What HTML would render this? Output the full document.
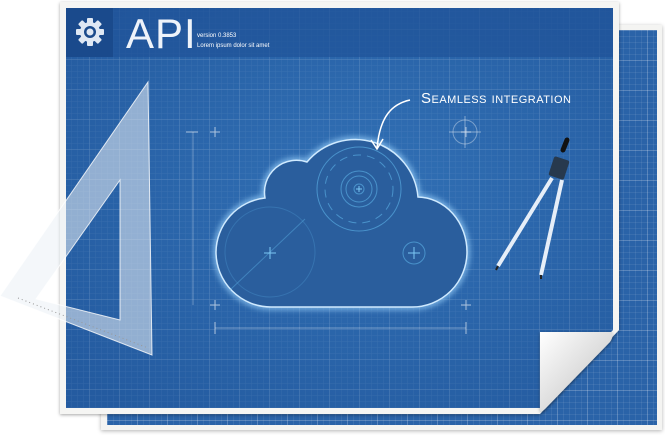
<!DOCTYPE html>
<html><head><meta charset="utf-8"><style>
html,body{margin:0;padding:0;background:#fff;}
body{width:665px;height:435px;position:relative;overflow:hidden;font-family:"Liberation Sans",sans-serif;}
.grid{background-color:#2a63a8;
background-image:
linear-gradient(rgba(255,255,255,.16) 1px,transparent 1px),
linear-gradient(90deg,rgba(255,255,255,.16) 1px,transparent 1px),
linear-gradient(rgba(255,255,255,.07) 1px,transparent 1px),
linear-gradient(90deg,rgba(255,255,255,.07) 1px,transparent 1px);
background-size:30px 30px,30px 30px,6px 6px,6px 6px;}
</style></head><body>
<div style="position:absolute;left:101px;top:25px;width:561px;height:405px;background:#f4f4f2;box-shadow:0 1px 4px rgba(0,0,0,.3);"></div>
<div class="grid" style="position:absolute;left:107px;top:30px;width:550px;height:395px;"></div>
<svg width="665" height="435" style="position:absolute;left:0;top:0">
<defs>
<pattern id="g6" width="6" height="6" patternUnits="userSpaceOnUse"><path d="M6 0V6H0" fill="none" stroke="rgba(255,255,255,.07)"/></pattern>
<pattern id="g30" width="30" height="30" patternUnits="userSpaceOnUse"><path d="M30 0V30H0" fill="none" stroke="rgba(255,255,255,.16)"/></pattern>
<radialGradient id="bg" cx="0.55" cy="0.45" r="0.7"><stop offset="0" stop-color="#3170b5"/><stop offset="1" stop-color="#245ba0"/></radialGradient>
<linearGradient id="curl" x1="0" y1="0" x2="1" y2="1"><stop offset="0" stop-color="#fff"/><stop offset=".6" stop-color="#d8d8d8"/><stop offset="1" stop-color="#aaa"/></linearGradient>
<filter id="sh"><feDropShadow dx="0" dy="1" stdDeviation="1.5" flood-opacity=".35"/></filter>
<filter id="glow"><feGaussianBlur stdDeviation="3"/></filter>
</defs>
<path d="M60 2H619V330L540 414H60Z" fill="#f5f5f3" filter="url(#sh)"/>
<path d="M66 8H613V330L540 408H66Z" fill="url(#bg)"/>
<path d="M66 8H613V330L540 408H66Z" fill="url(#g6)"/>
<path d="M66 8H613V330L540 408H66Z" fill="url(#g30)"/>
<rect x="66" y="8" width="547" height="49" fill="#1f5398" opacity=".7"/>
<rect x="66" y="8" width="47" height="49" fill="#1a4a8c"/>
<g transform="translate(90,32)" fill="#dfe8f4">
<circle r="10"/>
<g id="t"><rect x="-3" y="-14" width="6" height="6" rx="1"/></g>
<use href="#t" transform="rotate(45)"/><use href="#t" transform="rotate(90)"/><use href="#t" transform="rotate(135)"/><use href="#t" transform="rotate(180)"/><use href="#t" transform="rotate(225)"/><use href="#t" transform="rotate(270)"/><use href="#t" transform="rotate(315)"/>
<circle r="6" fill="#1a4a8c"/><circle r="3.5" fill="#dfe8f4"/>
</g>
<text x="126" y="48" fill="#eef3fa" font-size="42" style="font-weight:300" letter-spacing="1">API</text>
<text x="197" y="37" fill="#fff" font-size="6">version 0.3853</text>
<text x="197" y="47" fill="#fff" font-size="6">Lorem ipsum dolor sit amet</text>
<g stroke="rgba(255,255,255,.6)" stroke-width="1" fill="none">
<path d="M193 132V305" opacity=".5"/>
<path d="M215 328H466" opacity=".6"/>
<path d="M186 132h12M210 132h10M215 127v10M461 132h10M466 127v10M210 305h10M215 300v10M461 305h10M466 300v10M215 322v12M466 322v12"/>
<circle cx="465" cy="132" r="12" opacity=".6"/><path d="M449 132h32M465 116v32" opacity=".7"/>
</g>
<path d="M271 307A55 55 0 0 1 216 252A55 55 0 0 1 265 198A32 32 0 0 1 307 162A63 63 0 0 1 418 197A50 55 0 0 1 467 252A55 55 0 0 1 412 307Z" fill="none" stroke="#9fd6ff" stroke-width="5" filter="url(#glow)" opacity=".8"/>
<path d="M271 307A55 55 0 0 1 216 252A55 55 0 0 1 265 198A32 32 0 0 1 307 162A63 63 0 0 1 418 197A50 55 0 0 1 467 252A55 55 0 0 1 412 307Z" fill="#2a5e9d" stroke="#cfeaff" stroke-width="1.5"/>
<g stroke="#5fb6ea" fill="none" stroke-width="1" opacity=".6">
<circle cx="359" cy="189" r="34" stroke-dasharray="8 6"/>
<circle cx="359" cy="189" r="42"/><circle cx="359" cy="189" r="18"/><circle cx="359" cy="189" r="13"/><circle cx="359" cy="189" r="5"/>
<circle cx="270" cy="252" r="45" opacity=".4"/><path d="M230 290L305 219" opacity=".7"/>
<circle cx="414" cy="253" r="11"/>
</g>
<g stroke="#7cc8f5" stroke-width="1"><path d="M264 253h12M270 247v12M408 253h12M414 247v12M356 189h6M359 186v6"/></g>
<path d="M410 100C392 104 380 116 377 148M371 140L377 149L383 139" stroke="#fff" stroke-width="1.5" fill="none"/>
<text x="421" y="103" fill="#fff" font-size="15" style="font-variant:small-caps" letter-spacing="0.5">Seamless integration</text>
<g>
<path d="M563 150L567 140" stroke="#111" stroke-width="5" stroke-linecap="round"/>
<rect x="551" y="158" width="16" height="20" rx="2" fill="#27394d" transform="rotate(18 559 168)"/>
<path d="M552 178L498 266M562 180L541 275" stroke="#e6eef8" stroke-width="4"/>
<path d="M498 266l-2 4M541 275l0 4" stroke="#222" stroke-width="2"/>
</g>
<path fill-rule="evenodd" d="M148 82L152 355L0 296Z M120 180L36 299L120 320Z" fill="rgba(235,240,245,.55)" stroke="rgba(255,255,255,.8)" stroke-width="1"/>
<path d="M18 298L148 348" stroke="#999" stroke-width="1" stroke-dasharray="1 3"/>
<path d="M540 332H612Q614 336 610 342L546 408Q541 413 540 410Z" fill="url(#curl)" filter="url(#sh)"/>
</svg>
</body></html>
